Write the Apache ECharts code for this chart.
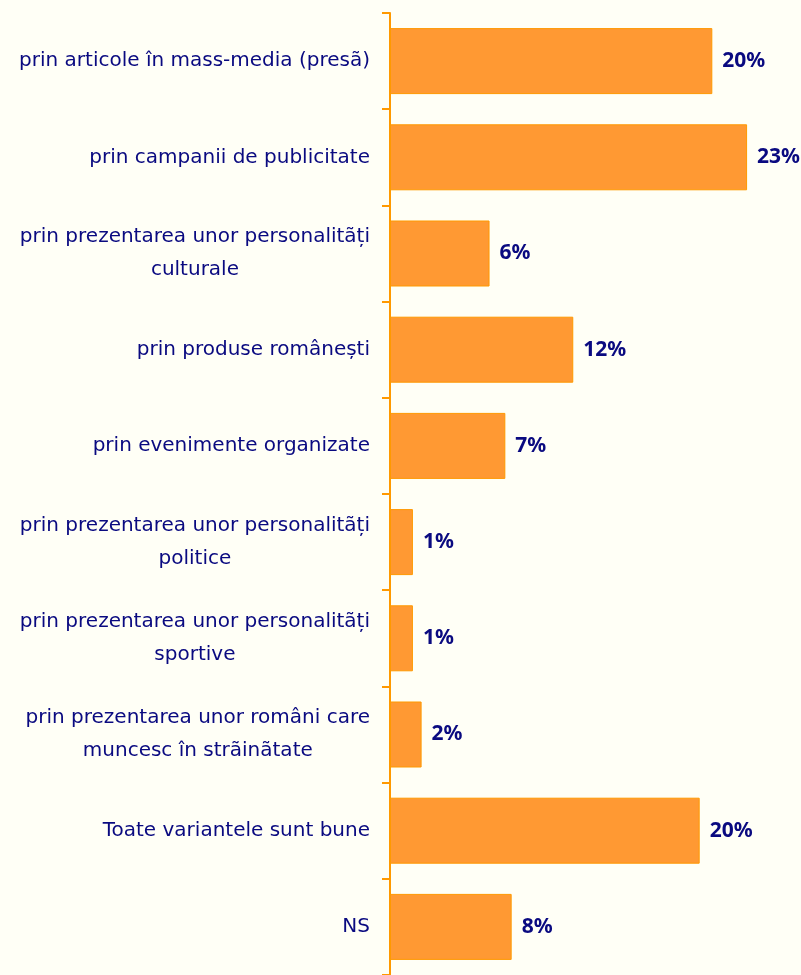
<!DOCTYPE html>
<html>
<head>
<meta charset="utf-8">
<script src="https://cdn.jsdelivr.net/npm/echarts@6/dist/echarts.min.js"></script>
<style>
  html, body { margin: 0; padding: 0; background: #FFFFF6; }
  #chart { width: 801px; height: 975px; }
</style>
</head>
<body>
<div id="chart"></div>
<script>
// categorii (de sus in jos)
const categories = [
  'prin articole în mass-media (presã)',
  'prin campanii de publicitate',
  'prin prezentarea unor personalitãți\nculturale',
  'prin produse românești',
  'prin evenimente organizate',
  'prin prezentarea unor personalitãți\npolitice',
  'prin prezentarea unor personalitãți\nsportive',
  'prin prezentarea unor români care\nmuncesc în strãinãtate',
  'Toate variantele sunt bune',
  'NS'
]
// procente
const values = [20.4, 22.6, 6.3, 11.6, 7.3, 1.45, 1.45, 2.0, 19.6, 7.7]

const myChart = echarts.init(document.getElementById('chart'))

const option = {
  backgroundColor: '#FFFFF6',
  animation: false,
  grid: { left: 390, right: 16, top: 13, height: 963 },
  xAxis: {
    type: 'value',
    min: 0,
    max: 25,
    show: false
  },
  yAxis: {
    type: 'category',
    inverse: true,
    data: categories,
    axisLine: { show: true, lineStyle: { color: '#FF9900', width: 2 } },
    axisTick: { show: true, length: 8, lineStyle: { color: '#FF9900', width: 2 } },
    axisLabel: {
      margin: 20,
      formatter: (v) => v.split('\n').map(s => '{c|' + s + '}').join('\n'),
      rich: {
        c: {
          align: 'center',
          color: '#0A0A80',
          fontFamily: 'DejaVu Sans',
          fontSize: 20,
          lineHeight: 33
        }
      }
    }
  },
  series: [
    {
      type: 'bar',
      data: values,
      barWidth: 66,
      itemStyle: { color: '#FF9933', borderColor: '#FF9900', borderWidth: 1 },
      label: {
        show: true,
        position: 'right',
        distance: 10,
        formatter: (p) => Math.round(p.value) + '%',
        color: '#0A0A80',
        fontFamily: 'Noto Sans',
        fontWeight: 'bold',
        fontSize: 21
      }
    }
  ]
}

option && myChart.setOption(option)
</script>
</body>
</html>
